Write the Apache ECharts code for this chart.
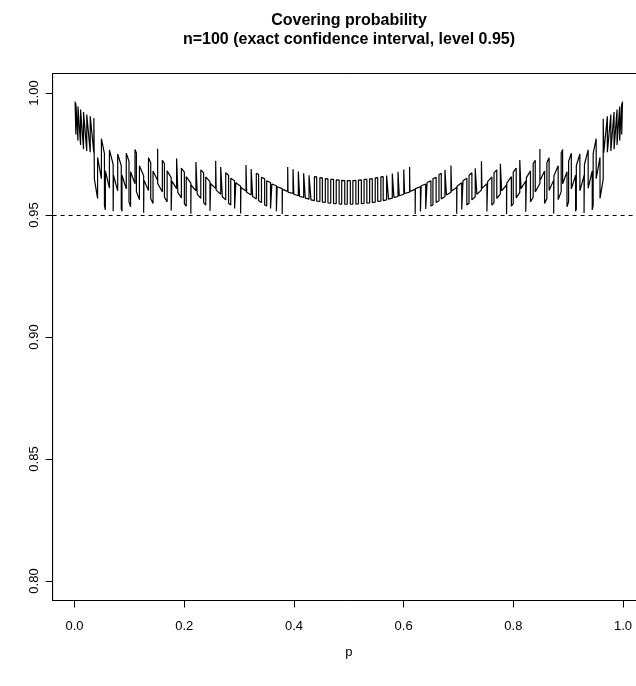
<!DOCTYPE html>
<html><head><meta charset="utf-8">
<script src="https://cdn.jsdelivr.net/npm/echarts@6.0.0/dist/echarts.min.js"></script>
<style>html,body{margin:0;padding:0;background:#fff}#chart{width:636px;height:686px}</style>
</head><body><div id="chart"></div>
<script>
// jump locations (p) with coverage just before / just after each jump, p < 0.5
const pLeft = [
0.001,0.0024,0.0062,0.0110,0.0164,0.0223,0.0286,0.0352,0.0362,0.0420,
0.0490,0.0545,0.0562,0.0636,0.0704,0.0711,0.0787,0.0852,0.0865,0.0943,
0.0993,0.1022,0.1102,0.1128,0.1183,0.1260,0.1265,0.1348,0.1389,0.1431,
0.1515,0.1516,0.1601,0.1639,0.1688,0.1762,0.1774,0.1861,0.1883,0.1948,
0.2002,0.2036,0.2120,0.2124,0.2213,0.2237,0.2302,0.2353,0.2392,0.2469,
0.2482,0.2573,0.2582,0.2665,0.2695,0.2756,0.2808,0.2848,0.2918,0.2941,
0.3028,0.3033,0.3126,0.3138,0.3220,0.3247,0.3314,0.3356,0.3408,0.3466,
0.3503,0.3573,0.3598,0.3680,0.3694,0.3786,0.3790,0.3886,0.3892,0.3983,
0.3998,0.4080,0.4103,0.4177,0.4207,0.4275,0.4311,0.4373,0.4415,0.4473,
0.4518,0.4572,0.4620,0.4671,0.4722,0.4771,0.4824,0.4871,0.4926,0.4972];
const beforeLeft = [
0.9965,0.9830,0.9805,0.9787,0.9770,0.9762,0.9757,0.9755,0.9895,0.9568,
0.9649,0.9752,0.9521,0.9610,0.9707,0.9508,0.9599,0.9702,0.9515,0.9607,
0.9720,0.9534,0.9628,0.9754,0.9563,0.9661,0.9506,0.9600,0.9714,0.9547,
0.9641,0.9771,0.9595,0.9711,0.9554,0.9653,0.9513,0.9608,0.9725,0.9570,
0.9676,0.9536,0.9631,0.9504,0.9599,0.9710,0.9568,0.9673,0.9540,0.9637,
0.9514,0.9609,0.9720,0.9585,0.9691,0.9562,0.9663,0.9541,0.9640,0.9523,
0.9618,0.9505,0.9598,0.9703,0.9582,0.9685,0.9566,0.9666,0.9551,0.9648,
0.9537,0.9633,0.9525,0.9620,0.9514,0.9608,0.9504,0.9597,0.9697,0.9588,
0.9687,0.9579,0.9677,0.9572,0.9670,0.9565,0.9662,0.9559,0.9656,0.9556,
0.9652,0.9552,0.9648,0.9549,0.9646,0.9547,0.9643,0.9545,0.9641,0.9544];
const afterLeft = [
0.9965,0.9958,0.9945,0.9932,0.9922,0.9912,0.9905,0.9898,0.9647,0.9736,
0.9813,0.9539,0.9681,0.9767,0.9515,0.9662,0.9750,0.9525,0.9663,0.9753,
0.9554,0.9677,0.9769,0.9596,0.9702,0.9509,0.9643,0.9735,0.9568,0.9680,
0.9772,0.9629,0.9724,0.9573,0.9681,0.9518,0.9639,0.9732,0.9593,0.9692,
0.9547,0.9657,0.9505,0.9623,0.9717,0.9586,0.9685,0.9551,0.9656,0.9517,
0.9628,0.9722,0.9602,0.9697,0.9575,0.9673,0.9548,0.9651,0.9527,0.9632,
0.9506,0.9613,0.9705,0.9593,0.9688,0.9576,0.9671,0.9558,0.9655,0.9541,
0.9640,0.9527,0.9627,0.9515,0.9616,0.9504,0.9605,0.9697,0.9594,0.9688,
0.9585,0.9678,0.9576,0.9671,0.9569,0.9663,0.9562,0.9657,0.9557,0.9653,
0.9553,0.9649,0.9550,0.9646,0.9548,0.9644,0.9546,0.9642,0.9544,0.9641];
// p > 0.5
const pRight = [
0.5028,0.5074,0.5129,0.5176,0.5229,0.5278,0.5329,0.5380,0.5428,0.5482,
0.5527,0.5585,0.5627,0.5689,0.5725,0.5793,0.5823,0.5897,0.5920,0.6002,
0.6017,0.6108,0.6114,0.6210,0.6214,0.6306,0.6320,0.6402,0.6427,0.6497,
0.6534,0.6592,0.6644,0.6686,0.6753,0.6780,0.6862,0.6874,0.6967,0.6972,
0.7059,0.7082,0.7152,0.7192,0.7244,0.7305,0.7335,0.7418,0.7427,0.7518,
0.7531,0.7608,0.7647,0.7698,0.7763,0.7787,0.7876,0.7880,0.7964,0.7998,
0.8052,0.8117,0.8139,0.8226,0.8238,0.8312,0.8361,0.8399,0.8484,0.8485,
0.8569,0.8611,0.8652,0.8735,0.8740,0.8817,0.8872,0.8898,0.8978,0.9007,
0.9057,0.9135,0.9148,0.9213,0.9289,0.9296,0.9364,0.9438,0.9455,0.9510,
0.9580,0.9638,0.9648,0.9714,0.9777,0.9836,0.9890,0.9938,0.9976,0.9990];
const beforeRight = [
0.9641,0.9544,0.9642,0.9546,0.9644,0.9548,0.9646,0.9550,0.9649,0.9553,
0.9653,0.9557,0.9657,0.9562,0.9663,0.9569,0.9671,0.9576,0.9678,0.9585,
0.9688,0.9594,0.9697,0.9605,0.9504,0.9616,0.9515,0.9627,0.9527,0.9640,
0.9541,0.9655,0.9558,0.9671,0.9576,0.9688,0.9593,0.9705,0.9613,0.9506,
0.9632,0.9527,0.9651,0.9548,0.9673,0.9575,0.9697,0.9602,0.9722,0.9628,
0.9517,0.9656,0.9551,0.9685,0.9586,0.9717,0.9623,0.9505,0.9657,0.9547,
0.9692,0.9593,0.9732,0.9639,0.9518,0.9681,0.9573,0.9724,0.9629,0.9772,
0.9680,0.9568,0.9735,0.9643,0.9509,0.9702,0.9596,0.9769,0.9677,0.9554,
0.9753,0.9663,0.9525,0.9750,0.9662,0.9515,0.9767,0.9681,0.9539,0.9813,
0.9736,0.9647,0.9898,0.9905,0.9912,0.9922,0.9932,0.9945,0.9958,0.9965];
const afterRight = [
0.9544,0.9641,0.9545,0.9643,0.9547,0.9646,0.9549,0.9648,0.9552,0.9652,
0.9556,0.9656,0.9559,0.9662,0.9565,0.9670,0.9572,0.9677,0.9579,0.9687,
0.9588,0.9697,0.9597,0.9504,0.9608,0.9514,0.9620,0.9525,0.9633,0.9537,
0.9648,0.9551,0.9666,0.9566,0.9685,0.9582,0.9703,0.9598,0.9505,0.9618,
0.9523,0.9640,0.9541,0.9663,0.9562,0.9691,0.9585,0.9720,0.9609,0.9514,
0.9637,0.9540,0.9673,0.9568,0.9710,0.9599,0.9504,0.9631,0.9536,0.9676,
0.9570,0.9725,0.9608,0.9513,0.9653,0.9554,0.9711,0.9595,0.9771,0.9641,
0.9547,0.9714,0.9600,0.9506,0.9661,0.9563,0.9754,0.9628,0.9534,0.9720,
0.9607,0.9515,0.9702,0.9599,0.9508,0.9707,0.9610,0.9521,0.9752,0.9649,
0.9568,0.9895,0.9755,0.9757,0.9762,0.9770,0.9787,0.9805,0.9830,0.9965];

const xTicks = [0, 0.2, 0.4, 0.6, 0.8, 1.0];
const yTicks = [0.80, 0.85, 0.90, 0.95, 1.00];
const level = 0.95;
const titleLine1 = 'Covering probability';
const titleLine2 = 'n=100 (exact confidence interval, level 0.95)';
const xName = 'p';

const data = [];
function addPart(ps, bef, aft) {
  for (let i = 0; i < ps.length; i++) {
    data.push([ps[i], bef[i]]);
    if (aft[i] !== bef[i]) data.push([ps[i], aft[i]]);
  }
}
addPart(pLeft, beforeLeft, afterLeft);
addPart(pRight, beforeRight, afterRight);

const FONT = '"Liberation Sans", Arial, Helvetica, sans-serif';
const chart = echarts.init(document.getElementById('chart'), null, {renderer: 'canvas'});
chart.setOption({
  animation: false,
  backgroundColor: '#ffffff',
  grid: {left: 52.6, top: 73.5, width: 592.4, height: 527, show: true,
         outerBoundsMode: 'none', containLabel: false,
         borderColor: '#000', borderWidth: 1, backgroundColor: 'transparent'},
  xAxis: {
    type: 'value', min: -0.04, max: 1.04,
    axisLine: {show: true, onZero: false, lineStyle: {color: '#000', width: 1}},
    axisTick: {show: true, customValues: xTicks, length: 7, lineStyle: {color: '#000', width: 1}},
    axisLabel: {customValues: xTicks, formatter: v => v.toFixed(1), fontSize: 13,
                color: '#000', margin: 19, fontFamily: FONT},
    splitLine: {show: false},
    name: xName, nameLocation: 'middle', nameGap: 45,
    nameTextStyle: {fontSize: 13, color: '#000', fontFamily: FONT}
  },
  yAxis: {
    type: 'value', min: 0.792, max: 1.008,
    axisLine: {show: true, onZero: false, lineStyle: {color: '#000', width: 1}},
    axisTick: {show: true, customValues: yTicks, length: 7, lineStyle: {color: '#000', width: 1}},
    axisLabel: {customValues: yTicks, formatter: v => v.toFixed(2), fontSize: 13,
                color: '#000', margin: 12, rotate: 90, fontFamily: FONT},
    splitLine: {show: false}
  },
  graphic: [
    {type: 'text', x: 349, y: 21, style: {text: titleLine1, fill: '#000',
      font: 'bold 16px ' + FONT, align: 'center', verticalAlign: 'middle'}},
    {type: 'text', x: 349, y: 40, style: {text: titleLine2, fill: '#000',
      font: 'bold 16px ' + FONT, align: 'center', verticalAlign: 'middle'}}
  ],
  series: [{
    type: 'line', data: data, showSymbol: false, symbol: 'none',
    lineStyle: {color: '#000', width: 1.2}, silent: true,
    markLine: {symbol: 'none', silent: true, label: {show: false},
      lineStyle: {color: '#000', width: 1, type: [4, 4]},
      data: [{yAxis: level}]}
  }]
});
</script>
</body></html>
